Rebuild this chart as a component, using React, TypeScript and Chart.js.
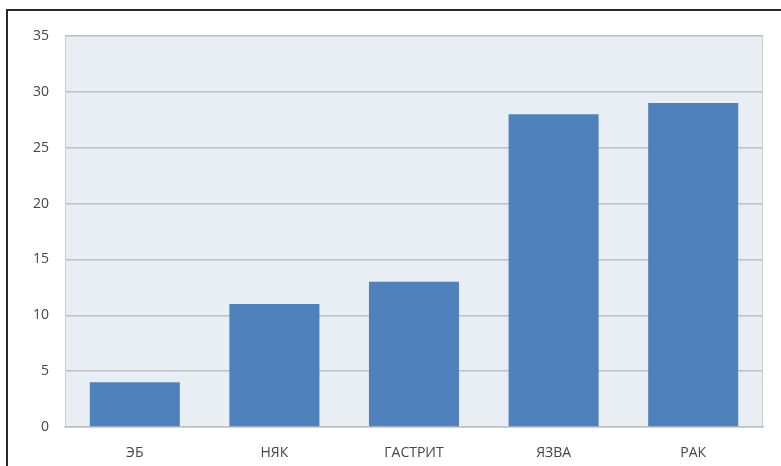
import React, { useEffect, useRef } from "react";
import { Chart, registerables } from "chart.js";

Chart.register(...registerables);

const categories = ["ЭБ", "НЯК", "ГАСТРИТ", "ЯЗВА", "РАК"];
const values = [4, 11, 13, 28, 29];
const yTicks = [0, 5, 10, 15, 20, 25, 30, 35];

const plotBg = {
  id: "plotBg",
  beforeDraw(chart: any) {
    const { ctx, chartArea } = chart;
    if (!chartArea) return;
    ctx.save();
    ctx.fillStyle = "#E9EDF4";
    ctx.fillRect(chartArea.left, chartArea.top, chartArea.right - chartArea.left, chartArea.bottom - chartArea.top);
    ctx.restore();
  },
  afterDraw(chart: any) {
    const { ctx, chartArea } = chart;
    ctx.save();
    ctx.strokeStyle = "#C9CDD3";
    ctx.lineWidth = 1;
    ctx.beginPath();
    ctx.moveTo(chartArea.left + 0.5, chartArea.top);
    ctx.lineTo(chartArea.left + 0.5, chartArea.bottom);
    ctx.moveTo(chartArea.right - 0.5, chartArea.top);
    ctx.lineTo(chartArea.right - 0.5, chartArea.bottom);
    ctx.stroke();
    ctx.restore();
  },
};

export default function App() {
  const ref = useRef<HTMLCanvasElement>(null);
  useEffect(() => {
    if (!ref.current) return;
    const chart = new Chart(ref.current, {
      type: "bar",
      data: {
        labels: categories,
        datasets: [
          {
            data: values,
            backgroundColor: "#4F81BD",
            borderWidth: 0,
            barPercentage: 0.645,
            categoryPercentage: 1,
          },
        ],
      },
      options: {
        animation: false,
        responsive: false,
        layout: { padding: { top: 36, right: 18, left: 0, bottom: 0 } },
        plugins: { legend: { display: false }, tooltip: { enabled: false }, title: { display: false } },
        scales: {
          x: {
            grid: { display: false, drawTicks: false },
            border: { display: true, color: "#BBBFC5", width: 1.5 },
            ticks: { padding: 18, color: "#454545", font: { family: "Open Sans", size: 14 } },
            afterFit(scale: any) {
              scale.height = 39;
            },
          },
          y: {
            min: 0,
            max: 35,
            afterBuildTicks(scale: any) {
              scale.ticks = yTicks.map((v) => ({ value: v }));
            },
            grid: { color: "#BBBFC5", lineWidth: 1.5, drawTicks: false },
            border: { display: false },
            ticks: { padding: 16, color: "#454545", font: { family: "Open Sans", size: 14 } },
            afterFit(scale: any) {
              scale.width = 65;
            },
          },
        },
      },
      plugins: [plotBg],
    });
    return () => chart.destroy();
  }, []);
  return (
    <div style={{ position: "fixed", left: 0, top: 0, width: 781, height: 466, background: "#fff" }}>
      <canvas ref={ref} width={781} height={466} style={{ position: "absolute", left: 0, top: 0 }} />
      <div
        style={{
          position: "absolute",
          left: 6,
          top: 9,
          right: 0,
          bottom: 0,
          borderTop: "2px solid #2a2a2a",
          borderLeft: "2px solid #2a2a2a",
          pointerEvents: "none",
        }}
      />
    </div>
  );
}
